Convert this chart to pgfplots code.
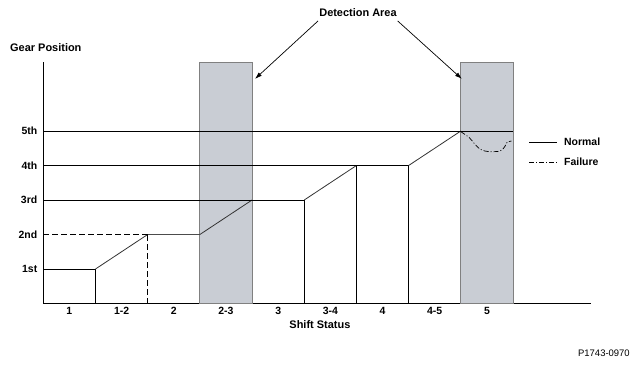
\documentclass[border=0pt]{standalone}
\usepackage{fontspec}
\setmainfont{Liberation Sans}
\usepackage{pgfplots}
\pgfplotsset{compat=1.18}
\usetikzlibrary{arrows.meta}
\definecolor{boxgray}{RGB}{201,205,212}
\definecolor{boxedge}{RGB}{128,128,128}
\begin{document}
\begin{tikzpicture}
\useasboundingbox (-43.3bp,-63.5bp) rectangle (597.7bp,303.5bp);
\begin{axis}[
  scale only axis, width=548bp, height=241.5bp,
  xmin=0, xmax=10.5, ymin=0, ymax=7,
  axis lines*=left, axis line style={line width=1bp, black},
  clip=false,
  xtick={0.5,1.5,2.5,3.5,4.5,5.5,6.5,7.5,8.5},
  xticklabels={\textbf{1},\textbf{1-2},\textbf{2},\textbf{2-3},\textbf{3},\textbf{3-4},\textbf{4},\textbf{4-5},\textbf{5}},
  ytick={1,2,3,4,5},
  yticklabels={\textbf{1st},\textbf{2nd},\textbf{3rd},\textbf{4th},\textbf{5th}},
  major tick length=0pt,
  tick label style={font=\fontsize{10.5}{12}\selectfont\bfseries},
  yticklabel style={xshift=-2.5bp},
  every axis plot/.append style={line width=0.8bp},
  legend style={draw=none, fill=none, at={(axis cs:9.3,4.86)}, anchor=north west,
    inner sep=0pt, row sep=8bp, column sep=5bp, font=\fontsize{10.5}{12}\selectfont\bfseries,
    nodes={inner sep=1.5bp}, cells={anchor=west}},
  legend image code/.code={\draw[#1] (0bp,0bp) -- (28bp,0bp);},
]
% detection areas
\addplot[forget plot, fill=boxgray, draw=boxedge, line width=0.9bp] coordinates {(3,0) (3,7) (4,7) (4,0)} --cycle;
\addplot[forget plot, fill=boxgray, draw=boxedge, line width=0.9bp] coordinates {(8,0) (8,7) (9,7) (9,0)} --cycle;
% normal
\addplot[forget plot, black] coordinates {(0,1) (1,1)};
\addplot[forget plot, black] coordinates {(1,0) (1,1)};
\addplot[forget plot, black!80] coordinates {(1,1) (2,2)};
\addplot[forget plot, black!70, line width=1.1bp] coordinates {(2,2) (3,2)};
\addplot[forget plot, black!80] coordinates {(3,2) (4,3)};
\addplot[forget plot, black] coordinates {(0,3) (5,3)};
\addplot[forget plot, black] coordinates {(5,0) (5,3)};
\addplot[forget plot, black!80] coordinates {(5,3) (6,4)};
\addplot[forget plot, black] coordinates {(0,4) (7,4)};
\addplot[forget plot, black] coordinates {(6,0) (6,4)};
\addplot[forget plot, black] coordinates {(7,0) (7,4)};
\addplot[forget plot, black!80] coordinates {(7,4) (8,5)};
\addplot[forget plot, black] coordinates {(0,5) (9,5)};
% failure (dashed)
\addplot[forget plot, black, dash pattern=on 6bp off 3bp] coordinates {(0,2) (2,2)};
\addplot[forget plot, black, dash pattern=on 6bp off 3bp] coordinates {(2,0) (2,2)};
\addplot[forget plot, black, line width=0.7bp, dash pattern=on 5bp off 2bp on 1bp off 2bp, smooth] coordinates {
 (8.0,4.98) (8.16,4.81) (8.27,4.62) (8.37,4.47) (8.46,4.42) (8.59,4.40) (8.75,4.42) (8.83,4.52) (8.87,4.63) (8.89,4.68) (8.97,4.71)};
% legend
\addlegendimage{black, line width=0.8bp}
\addlegendentry{Normal}
\addlegendimage{black, line width=0.8bp, dash pattern=on 5bp off 2bp on 1bp off 2bp}
\addlegendentry{Failure}
% annotations
\node[font=\fontsize{11}{13}\selectfont\bfseries] at (axis cs:6.03,8.42) {Detection Area};
\draw[line width=0.7bp, -{Latex[length=7bp,width=4.5bp]}] (axis cs:5.264,8.19) -- (axis cs:4.056,6.51);
\draw[line width=0.7bp, -{Latex[length=7bp,width=4.5bp]}] (axis cs:6.79,8.19) -- (axis cs:8.02,6.51);
\node[anchor=west, font=\fontsize{11}{13}\selectfont\bfseries, inner sep=0pt] at (axis cs:-0.638,7.41) {Gear Position};
\node[font=\fontsize{11}{13}\selectfont\bfseries] at (axis cs:5.30,-0.62) {Shift Status};
\node[anchor=east, font=\fontsize{9.5}{11}\selectfont, inner sep=0pt] at (axis cs:11.24,-1.43) {P1743-0970};
\end{axis}
\end{tikzpicture}
\end{document}
